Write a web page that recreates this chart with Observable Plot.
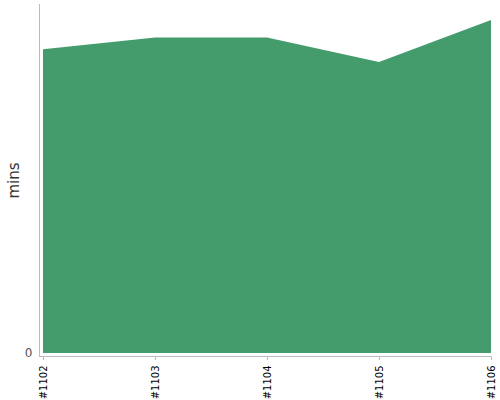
<!DOCTYPE html>
<html>
<head>
<meta charset="utf-8">
<script src="https://cdn.jsdelivr.net/npm/d3@7"></script>
<script src="https://cdn.jsdelivr.net/npm/@observablehq/plot@0.6"></script>
<style>
  html, body { margin: 0; padding: 0; background: #fff; }
  #chart { width: 500px; height: 400px; }
</style>
</head>
<body>
<div id="chart"></div>
<script>
const builds = ["#1102", "#1103", "#1104", "#1105", "#1106"];
const minutes = [43.5, 45.2, 45.2, 41.7, 47.7];
const yTicks = [0];

const data = builds.map((b, i) => ({build: b, mins: minutes[i]}));

const chart = Plot.plot({
  width: 500,
  height: 400,
  marginTop: 4,
  marginBottom: 44,
  marginLeft: 39,
  marginRight: 9,
  style: {fontFamily: "DejaVu Sans", background: "#fff"},
  x: {type: "point", domain: builds, padding: 0, insetLeft: 4},
  y: {domain: [0, 50], insetBottom: 3},
  marks: [
    Plot.areaY(data, {x: "build", y: "mins", fill: "#449c6c", curve: "linear"}),
    Plot.frame({anchor: "left", stroke: "#bbb", strokeWidth: 1}),
    Plot.frame({anchor: "bottom", stroke: "#bbb", strokeWidth: 1}),
    Plot.axisX({
      tickSize: 4,
      tickPadding: 5,
      tickRotate: -90,
      stroke: "#bbb",
      fill: "#000",
      fontSize: 10,
      label: null
    }),
    Plot.axisY({
      ticks: yTicks,
      tickSize: 0,
      tickPadding: 7,
      fontSize: 12,
      fill: "#555",
      label: null
    }),
    Plot.axisY({
      ticks: [],
      tickSize: 0,
      fontSize: 15,
      fill: "#333",
      label: "mins",
      labelAnchor: "center",
      labelArrow: "none",
      labelOffset: 31
    })
  ]
});

document.getElementById("chart").appendChild(chart);
</script>
</body>
</html>
